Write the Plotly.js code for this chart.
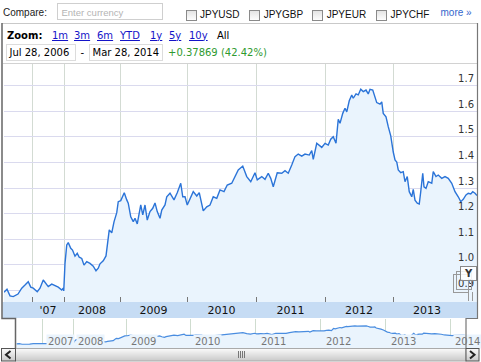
<!DOCTYPE html>
<html><head><meta charset="utf-8">
<script src="https://cdn.plot.ly/plotly-3.0.1.min.js"></script>
<style>
body{margin:0;background:#fff;}
#wrap{position:relative;width:481px;height:362px;overflow:hidden;background:#fff;font-family:"DejaVu Sans",Verdana,sans-serif;}
#chart{position:absolute;left:0;top:0;width:481px;height:362px;}
#ov{position:absolute;left:0;top:0;}
.t{position:absolute;white-space:nowrap;line-height:1;}
.ar{font-family:"Liberation Sans",Arial,sans-serif;}
.cb{position:absolute;box-sizing:border-box;width:11px;height:11px;border:1px solid #8a8a8a;background:linear-gradient(#e4e4e4,#fdfdfd);}
.lk{color:#1414c8;text-decoration:underline;}
.db{position:absolute;box-sizing:border-box;border:1px solid #dcdcdc;height:17px;}
</style></head>
<body>
<div id="wrap">
<div id="chart"></div>
<svg id="ov" width="481" height="362">
<defs><linearGradient id="g" x1="0" y1="0" x2="0" y2="1"><stop offset="0" stop-color="#fbfbfb"/><stop offset="1" stop-color="#c9c9c9"/></linearGradient></defs>
<line x1="2" y1="23.5" x2="477" y2="23.5" stroke="#c9c9c9"/>
<line x1="3" y1="63.5" x2="477" y2="63.5" stroke="#d2d2d2"/>
<path d="M2,23 V318.5 H15.5 V348" stroke="#666" stroke-width="1.5" fill="none"/>
<path d="M477.5,23 V318.5 H466 V348" stroke="#777" stroke-width="1.2" fill="none"/>
<rect x="15.5" y="348.5" width="450.5" height="12.5" fill="url(#g)" stroke="#aaa"/>
<rect x="1.5" y="348.5" width="14" height="12.5" fill="url(#g)" stroke="#555"/>
<path d="M10.5,351 L6,354.7 L10.5,358.4" stroke="#222" stroke-width="2" fill="none"/>
<rect x="466" y="348.5" width="13" height="12.5" fill="url(#g)" stroke="#555"/>
<path d="M470,351 L474.5,354.7 L470,358.4" stroke="#222" stroke-width="2" fill="none"/>
<g stroke="#777"><line x1="238.5" y1="351" x2="238.5" y2="358"/><line x1="240.5" y1="351" x2="240.5" y2="358"/><line x1="242.5" y1="351" x2="242.5" y2="358"/><line x1="244.5" y1="351" x2="244.5" y2="358"/></g>
<rect x="453.5" y="274.5" width="15" height="18" fill="none" stroke="#999"/>
<rect x="456.5" y="271.5" width="15" height="18" fill="none" stroke="#999"/>
<rect x="460.5" y="266.5" width="16" height="14" fill="#fff" fill-opacity="0.85" stroke="#888"/>
<text x="468.5" y="276.5" font-family="DejaVu Sans" font-weight="bold" font-size="10" text-anchor="middle" fill="#333">Y</text>
<line x1="468.5" y1="292" x2="468.5" y2="301" stroke="#999"/>
<line x1="472.5" y1="292" x2="472.5" y2="301" stroke="#999"/>
</svg>
<div class="t ar" style="left:3px;top:7.5px;font-size:10px;color:#222;">Compare:</div>
<div style="position:absolute;box-sizing:border-box;left:57px;top:3px;width:106px;height:17px;border:1px solid #cfcfcf;background:#fff;"></div>
<div class="t ar" style="left:61.5px;top:7.9px;font-size:9.5px;color:#b4b4b4;">Enter currency</div>
<div class="cb" style="left:186px;top:10px;"></div>
<div class="t ar" style="left:200px;top:9.8px;font-size:10px;color:#111;">JPYUSD</div>
<div class="cb" style="left:249px;top:10px;"></div>
<div class="t ar" style="left:263.7px;top:9.8px;font-size:10px;color:#111;">JPYGBP</div>
<div class="cb" style="left:312px;top:10px;"></div>
<div class="t ar" style="left:326.7px;top:9.8px;font-size:10px;color:#111;">JPYEUR</div>
<div class="cb" style="left:375.5px;top:10px;"></div>
<div class="t ar" style="left:390.5px;top:9.8px;font-size:10px;color:#111;">JPYCHF</div>
<div class="t ar" style="left:440.5px;top:8.2px;font-size:10px;color:#3366cc;">more »</div>
<div class="t" style="left:7px;top:30.5px;font-size:10px;font-weight:bold;color:#000;">Zoom:</div>
<div class="t lk" style="left:52px;top:30.5px;font-size:10px;">1m</div>
<div class="t lk" style="left:74px;top:30.5px;font-size:10px;">3m</div>
<div class="t lk" style="left:97px;top:30.5px;font-size:10px;">6m</div>
<div class="t lk" style="left:120px;top:30.5px;font-size:10px;">YTD</div>
<div class="t lk" style="left:150px;top:30.5px;font-size:10px;">1y</div>
<div class="t lk" style="left:169px;top:30.5px;font-size:10px;">5y</div>
<div class="t lk" style="left:189px;top:30.5px;font-size:10px;">10y</div>
<div class="t" style="left:217px;top:30.5px;font-size:10px;color:#000;">All</div>
<div class="db" style="left:6px;top:44px;width:70px;"></div>
<div class="t" style="left:9.5px;top:48.2px;font-size:10px;color:#000;">Jul 28, 2006</div>
<div class="t" style="left:80.5px;top:48.2px;font-size:10px;color:#000;">-</div>
<div class="db" style="left:89px;top:44px;width:74px;"></div>
<div class="t" style="left:92.5px;top:48.2px;font-size:10px;color:#000;">Mar 28, 2014</div>
<div class="t" style="left:168px;top:48.2px;font-size:10px;color:#2f9a2f;">+0.37869 (42.42%)</div>
</div>
<script>
// trading-session index of each sample and the JPY rate
const day = [
0,12,24,37,56,71,84,97,107,117,
133,144,157,168,177,191,204,217,231,237,
239,244,251,257,267,274,284,293,301,311,
320,331,344,357,368,377,384,397,408,413,
421,431,440,451,457,467,475,481,491,497,
507,517,524,533,547,555,564,573,584,595,
604,613,624,631,644,651,664,680,693,707,
715,724,733,747,757,771,781,797,811,824,
837,851,864,880,893,911,917,937,955,971,
987,1004,1013,1031,1044,1057,1067,1077,1093,1111,
1124,1137,1151,1164,1177,1191,1204,1221,1231,1237,
1251,1264,1271,1284,1297,1307,1317,1328,1337,1344,
1355,1364,1371,1381,1391,1397,1408,1417,1427,1437,
1448,1457,1464,1475,1484,1491,1504,1511,1517,1528,
1537,1547,1557,1564,1571,1577,1587,1597,1604,1613,
1621,1631,1637,1644,1653,1661,1667,1675,1680,1688,
1697,1711,1717,1728,1737,1751,1764,1777,1791,1804,
1817,1827,1837,1848,1857,1867,1875,1884,1892
];
const rate = [
0.893,0.905,0.879,0.876,0.886,0.909,0.921,0.934,0.913,0.909,
0.895,0.909,0.941,0.928,0.915,0.925,0.918,0.913,0.902,0.909,
0.898,1.006,1.078,1.087,1.065,1.058,1.034,1.045,1.030,1.025,
0.999,1.013,1.006,0.995,0.977,0.987,1.004,1.016,1.035,1.074,
1.137,1.125,1.168,1.204,1.247,1.251,1.266,1.282,1.254,1.241,
1.188,1.169,1.182,1.160,1.234,1.195,1.234,1.175,1.208,1.221,
1.242,1.208,1.182,1.214,1.234,1.266,1.280,1.254,1.282,1.319,
1.266,1.266,1.234,1.266,1.286,1.269,1.282,1.211,1.227,1.234,
1.266,1.260,1.293,1.286,1.312,1.319,1.332,1.371,1.386,1.345,
1.325,1.360,1.332,1.345,1.334,1.358,1.338,1.305,1.360,1.358,
1.368,1.358,1.390,1.423,1.433,1.425,1.433,1.429,1.446,1.412,
1.475,1.464,1.459,1.475,1.468,1.491,1.501,1.475,1.569,1.553,
1.592,1.612,1.598,1.641,1.664,1.651,1.668,1.664,1.686,1.677,
1.683,1.668,1.686,1.683,1.657,1.634,1.628,1.637,1.592,1.578,
1.540,1.504,1.441,1.410,1.402,1.371,1.360,1.364,1.325,1.345,
1.286,1.266,1.295,1.253,1.241,1.238,1.286,1.358,1.305,1.299,
1.325,1.319,1.364,1.345,1.351,1.338,1.345,1.338,1.319,1.286,
1.266,1.247,1.256,1.273,1.280,1.277,1.286,1.280,1.271
];
const yearStartDay = [112,240,464,732,1008,1284,1556,1828];
const yearNames = ['2007','2008','2009','2010','2011','2012','2013','2014'];
const bandLabels = ["'07",'2008','2009','2010','2011','2012','2013'];
const yTicks = [0.9,1.0,1.1,1.2,1.3,1.4,1.5,1.6,1.7];

const W = 481, H = 362;
const px = x => x / W, py = y => 1 - y / H;
const bandPos = bandLabels.map((_, i) => (yearStartDay[i] + yearStartDay[i + 1]) / 2);
const FONT = 'DejaVu Sans, Verdana, sans-serif';

const traces = [
  {x: day, y: rate, type: 'scatter', mode: 'lines', xaxis: 'x', yaxis: 'y',
   line: {color: '#2b74d8', width: 1.4}, fill: 'tozeroy', fillcolor: '#eaf4fd', hoverinfo: 'skip'},
  {x: day, y: rate, type: 'scatter', mode: 'lines', xaxis: 'x2', yaxis: 'y2',
   line: {color: '#4a8de0', width: 1.2}, fill: 'tozeroy', fillcolor: '#eaf4fd', hoverinfo: 'skip'}
];

const layout = {
  width: W, height: H, margin: {l: 0, r: 0, t: 0, b: 0},
  paper_bgcolor: '#fff', plot_bgcolor: '#fff', showlegend: false,
  xaxis: {domain: [px(4), px(477)], range: [0, 1892], anchor: 'y', showgrid: false, zeroline: false, showline: false,
    tickmode: 'array', tickvals: bandPos, ticktext: bandLabels, ticks: '',
    tickfont: {family: FONT, size: 11, color: '#111'},
    minor: {tickmode: 'array', tickvals: yearStartDay, showgrid: true, gridcolor: '#d3dbd3', gridwidth: 1,
      ticks: 'inside', ticklen: 5, tickcolor: '#777'}},
  yaxis: {domain: [py(302), py(64)], range: [0.855, 1.7848], side: 'right', anchor: 'x',
    tickmode: 'array', tickvals: yTicks, tickformat: '.1f', ticklabelposition: 'inside top', ticks: '',
    showgrid: true, gridcolor: '#dadaee', zeroline: false, showline: false,
    tickfont: {family: FONT, size: 10, color: '#333'}},
  xaxis2: {domain: [px(16.4), px(465.2)], range: [0, 1892], anchor: 'y2', showticklabels: false, ticks: '',
    tickmode: 'array', tickvals: yearStartDay, showgrid: true, gridcolor: '#cfdccf', zeroline: false, showline: false},
  yaxis2: {domain: [py(348), py(319)], range: [0.715, 1.986], anchor: 'x2', visible: false},
  shapes: [
    {type: 'rect', xref: 'paper', yref: 'paper', x0: px(2.5), x1: px(477), y0: py(318), y1: py(302),
     fillcolor: '#c6dcf4', line: {width: 0}, layer: 'below'}
  ],
  annotations: yearNames.map((n, i) => ({
    xref: 'x2', yref: 'paper', x: yearStartDay[i], y: py(341.7), xanchor: 'left', yanchor: 'middle',
    xshift: 3, text: n, showarrow: false, font: {family: FONT, size: 10, color: '#777'},
    bgcolor: '#eaf4fd', borderpad: 1
  }))
};

Plotly.newPlot('chart', traces, layout, {staticPlot: true, displayModeBar: false});
</script>
</body></html>
